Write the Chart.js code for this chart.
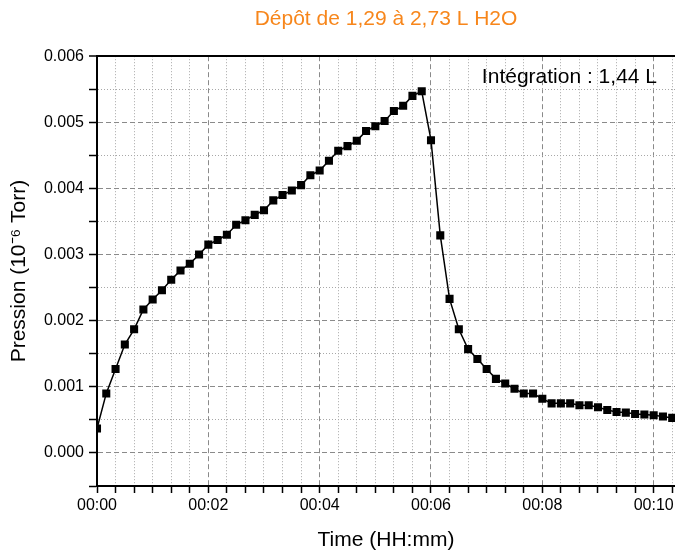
<!DOCTYPE html>
<html>
<head>
<meta charset="utf-8">
<script src="https://cdn.jsdelivr.net/npm/chart.js@4"></script>
<style>
  body { margin: 0; background: #fff; }
  #wrap { width: 675px; height: 551px; }
</style>
</head>
<body>
<div id="wrap"><canvas id="myChart"></canvas></div>
<script>
// time of each reading, in seconds
const times = [0, 10, 20, 30, 40, 50, 60, 70, 80, 90,
  100, 110, 120, 130, 140, 150, 160, 170, 180, 190,
  200, 210, 220, 230, 240, 250, 260, 270, 280, 290,
  300, 310, 320, 330, 340, 350, 360, 370, 380, 390,
  400, 410, 420, 430, 440, 450, 460, 470, 480, 490,
  500, 510, 520, 530, 540, 550, 560, 570, 580, 590,
  600, 610, 620];

// pressure readings (10^-6 Torr)
const pression = [0.00037, 0.00090, 0.00127, 0.00164, 0.00187, 0.00217, 0.00232, 0.00246, 0.00262, 0.00276,
  0.00286, 0.00300, 0.00315, 0.00322, 0.00330, 0.00345, 0.00352, 0.00360, 0.00367, 0.00382,
  0.00390, 0.00397, 0.00405, 0.00420, 0.00427, 0.00442, 0.00457, 0.00464, 0.00472, 0.00487,
  0.00494, 0.00502, 0.00517, 0.00525, 0.00540, 0.00547, 0.00473, 0.00329, 0.00233, 0.00187,
  0.00157, 0.00142, 0.00127, 0.00112, 0.00105, 0.00097, 0.00090, 0.00090, 0.00082, 0.00075,
  0.00075, 0.00075, 0.00072, 0.00072, 0.00069, 0.00065, 0.00062, 0.00061, 0.00059, 0.00058,
  0.00057, 0.00055, 0.00053];

// y axis ticks (labels only on the 0.001 steps)
const yTicks = [-0.0005, 0, 0.0005, 0.001, 0.0015, 0.002, 0.0025, 0.003, 0.0035, 0.004, 0.0045, 0.005, 0.0055, 0.006];
const yLabels = ['', '0.000', '', '0.001', '', '0.002', '', '0.003', '', '0.004', '', '0.005', '', '0.006'];

// x axis: minor tick every 20 s, label every 2 min
const xTickStep = 20;
const xLabelStep = 120;

const points = times.map((t, i) => ({ x: t, y: pression[i] }));

// text in the top right corner
const noteText = 'Intégration : 1,44 L';
const notePlugin = {
  id: 'note',
  afterDraw(chart) {
    const c = chart.ctx;
    c.save();
    c.font = '21px "Liberation Sans", Arial, sans-serif';
    c.fillStyle = '#000';
    c.textAlign = 'right';
    c.textBaseline = 'middle';
    c.fillText(noteText, chart.chartArea.right - 18, chart.chartArea.top + 21);
    c.restore();
  }
};

const isMajorY = v => Math.abs(v / 0.001 - Math.round(v / 0.001)) < 1e-6;

const ctx = document.getElementById('myChart').getContext('2d');
const myChart = new Chart(ctx, {
  type: 'scatter',
  data: {
    datasets: [{
      data: points,
      showLine: true,
      borderColor: '#000',
      borderWidth: 1.5,
      backgroundColor: '#000',
      pointStyle: 'rect',
      pointRadius: 5.7,
      pointHoverRadius: 5.7,
      pointBorderWidth: 0,
      tension: 0,
      clip: 0
    }]
  },
  options: {
    responsive: true,
    maintainAspectRatio: false,
    animation: false,
    layout: { padding: 0, autoPadding: false },
    plugins: {
      legend: { display: false },
      tooltip: { enabled: false },
      title: {
        display: true,
        text: 'Dépôt de 1,29 à 2,73 L H2O',
        color: '#f7861b',
        fullSize: false,
        font: { family: '"Liberation Sans", Arial, sans-serif', size: 21, weight: 'normal', lineHeight: 1.2 },
        padding: { top: 7, bottom: 24 }
      }
    },
    scales: {
      x: {
        type: 'linear',
        min: 0,
        max: 623,
        afterFit: s => { s.height = 65; s.paddingRight = 0; s.paddingLeft = 0; },
        afterBuildTicks: s => {
          const t = [];
          for (let v = 0; v <= 620; v += xTickStep) t.push({ value: v });
          s.ticks = t;
        },
        ticks: {
          autoSkip: false,
          maxRotation: 0,
          padding: 3,
          color: '#000',
          font: { family: '"Liberation Sans", Arial, sans-serif', size: 16 },
          callback: v => v % xLabelStep === 0 ? '00:' + String(v / 60).padStart(2, '0') : ''
        },
        grid: {
          color: c => (c.tick && c.tick.value % xLabelStep === 0) ? '#8a8a8a' : '#a8a8a8',
          lineWidth: 1,
          tickLength: 7,
          tickColor: '#000',
          tickWidth: 1.5
        },
        border: {
          display: true,
          color: '#000',
          width: 2,
          dash: c => (c.tick && c.tick.value % xLabelStep === 0) ? [5, 3] : [1, 2]
        },
        title: {
          display: true,
          text: 'Time (HH:mm)',
          color: '#000',
          font: { family: '"Liberation Sans", Arial, sans-serif', size: 21, lineHeight: 1 },
          padding: { top: 0, bottom: 0 }
        }
      },
      y: {
        min: -0.0005,
        max: 0.006,
        afterFit: s => { s.width = 97; },
        afterBuildTicks: s => { s.ticks = yTicks.map(v => ({ value: v })); },
        ticks: {
          autoSkip: false,
          padding: 5,
          color: '#000',
          font: { family: '"Liberation Sans", Arial, sans-serif', size: 16 },
          callback: (v, i) => yLabels[i]
        },
        grid: {
          color: c => {
            if (!c.tick) return '#999';
            if (c.tick.value >= 0.006 - 1e-9) return '#000';
            return isMajorY(c.tick.value) ? '#8a8a8a' : '#a8a8a8';
          },
          lineWidth: c => (c.tick && c.tick.value >= 0.006 - 1e-9) ? 2 : 1,
          tickLength: 8,
          tickColor: '#000',
          tickWidth: 1.5
        },
        border: {
          display: true,
          color: '#000',
          width: 2,
          dash: c => {
            if (!c.tick) return [];
            if (c.tick.value >= 0.006 - 1e-9) return [];
            return isMajorY(c.tick.value) ? [5, 3] : [1, 2];
          }
        },
        title: {
          display: true,
          text: 'Pression (10⁻⁶ Torr)',
          color: '#000',
          font: { family: '"Liberation Sans", Arial, sans-serif', size: 21, lineHeight: 1.2 },
          padding: { top: 7, bottom: 0 }
        }
      }
    }
  },
  plugins: [notePlugin]
});
</script>
</body>
</html>
